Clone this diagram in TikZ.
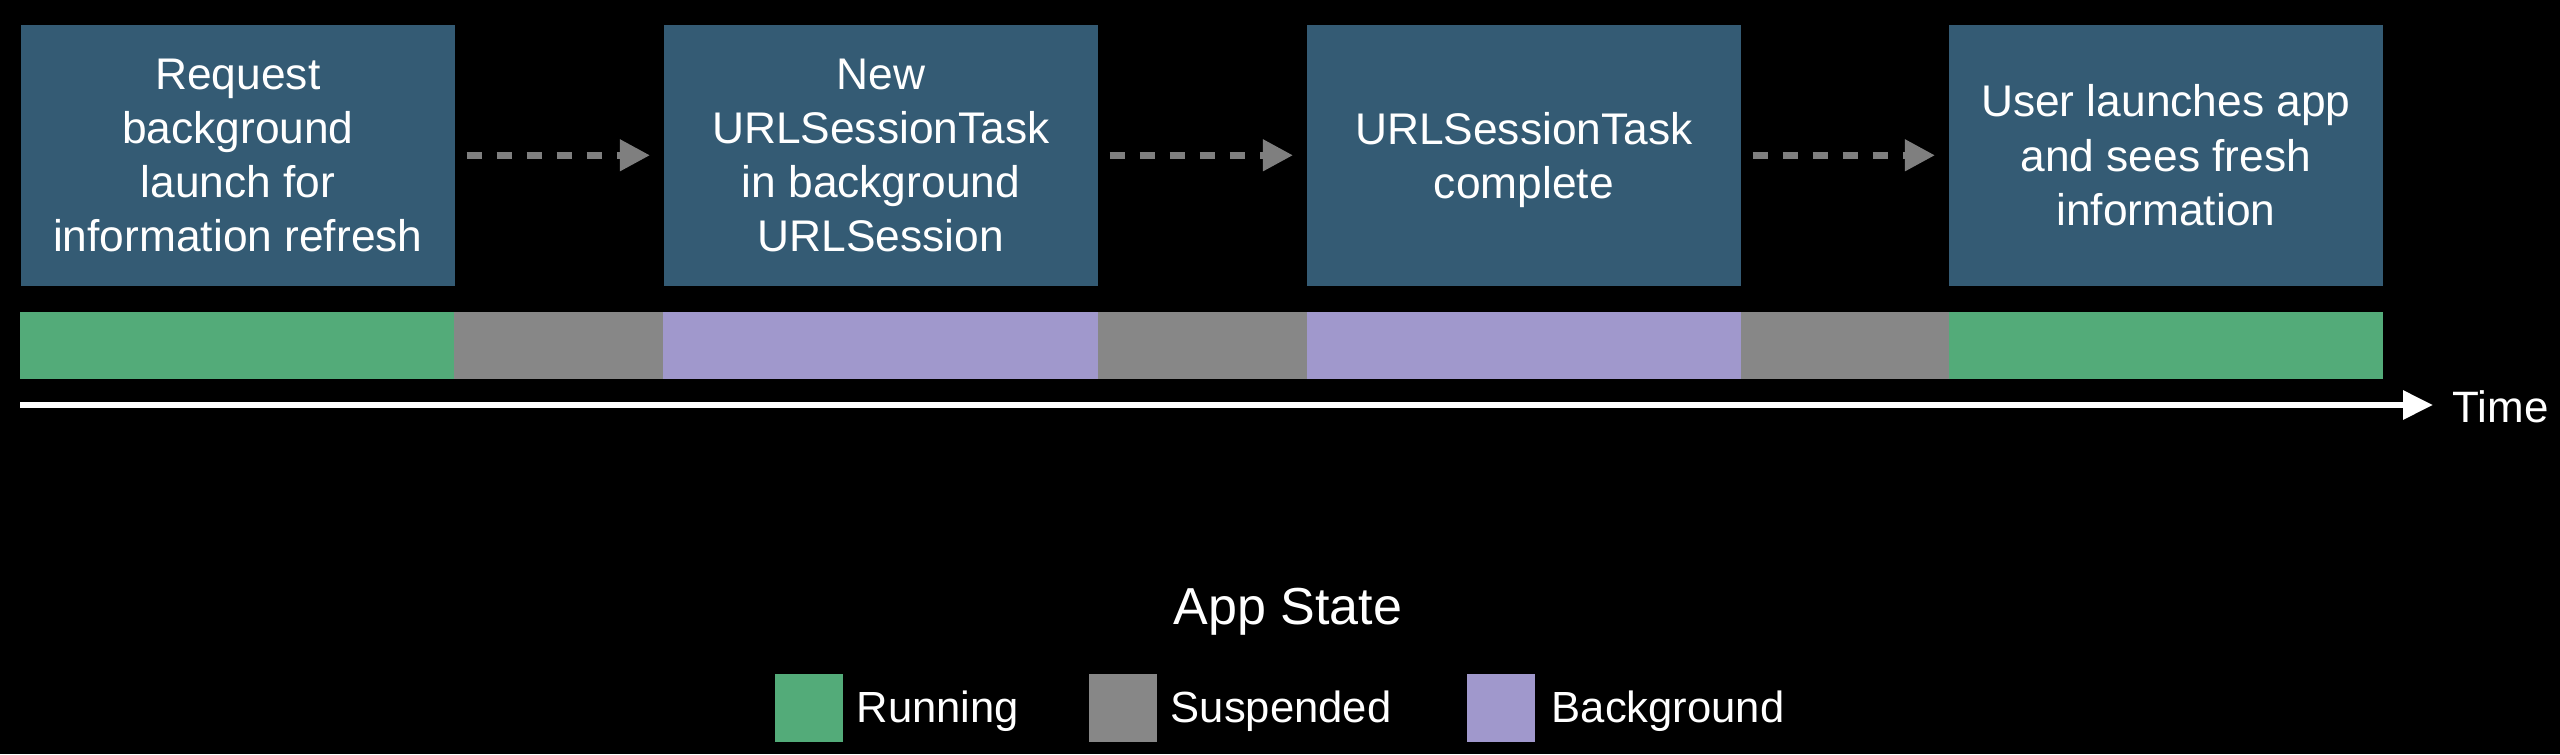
\documentclass[tikz,border=0pt]{standalone}
\usepackage{fontspec}
\setmainfont{Liberation Sans}
\usetikzlibrary{arrows.meta,positioning}
\definecolor{boxblue}{HTML}{345B74}
\definecolor{runcol}{HTML}{53AB79}
\definecolor{suspcol}{HTML}{878787}
\definecolor{bgcol}{HTML}{A098CC}
\definecolor{flowgray}{HTML}{7F7F7F}
\begin{document}
\begin{tikzpicture}[x=0.01cm,y=-0.01cm,
    stepbox/.style={fill=boxblue,text=white,align=center,inner sep=0pt,anchor=north west,
      minimum width=4.34cm,minimum height=2.61cm,font=\fontsize{12.6}{15.4}\selectfont},
    seg/.style={inner sep=0pt,outer sep=0pt,anchor=north west,minimum height=0.67cm},
    key/.style={inner sep=0pt,anchor=north west,minimum size=0.68cm},
    keytext/.style={text=white,inner sep=0pt,anchor=base west,font=\fontsize{12.4}{14}\selectfont},
    flow/.style={draw=flowgray,line width=0.07cm,dash pattern=on 0.15cm off 0.15cm,
      -{Triangle[length=0.3cm,width=0.3cm]},shorten <=0.11cm,shorten >=0.13cm}]
    \fill[black](0,0)rectangle(2560,754);\useasboundingbox(0,0)rectangle(2560,754);
    % steps
    \node[stepbox](req)at(20,24){Request\\background\\launch for\\information refresh};
    \node[stepbox](task)at(663,24){New\\URLSessionTask\\in background\\URLSession};
    \node[stepbox,text depth=0pt](done)at(1306,24){URLSessionTask\\complete};
    \node[stepbox](user)at(1948,24){User launches app\\and sees fresh\\information};
    \draw[flow](req)--(task);\draw[flow](task)--(done);\draw[flow](done)--(user);
    % state bar
    \node[seg,fill=runcol,minimum width=4.34cm](run1)at(20,312){};
    \node[seg,fill=suspcol,minimum width=2.09cm,right=0pt of run1](susp1){};
    \node[seg,fill=bgcol,minimum width=4.34cm,right=0pt of susp1](bg1){};
    \node[seg,fill=suspcol,minimum width=2.09cm,right=0pt of bg1](susp2){};
    \node[seg,fill=bgcol,minimum width=4.34cm,right=0pt of susp2](bg2){};
    \node[seg,fill=suspcol,minimum width=2.08cm,right=0pt of bg2](susp3){};
    \node[seg,fill=runcol,minimum width=4.34cm,right=0pt of susp3](run2){};
    % time axis
    \coordinate(t0)at(20,405);\coordinate(t1)at(2433,405);
    \draw[white,line width=0.06cm,-{Triangle[length=0.3cm,width=0.28cm]}](t0)--(t1);
    \node[keytext,font=\fontsize{12.5}{14}\selectfont](time)at(2452,422){Time};
    % legend
    \node[text=white,inner sep=0pt,anchor=base,font=\fontsize{14.8}{17}\selectfont](state)at(1288,624){App State};
    \node[key,fill=runcol](krun)at(774,673){};\node[keytext](lrun)at(856,722){Running};
    \node[key,fill=suspcol](ksusp)at(1088,673){};\node[keytext](lsusp)at(1170,722){Suspended};
    \node[key,fill=bgcol](kbg)at(1466,673){};\node[keytext](lbg)at(1551,722){Background};
\end{tikzpicture}
\end{document}
